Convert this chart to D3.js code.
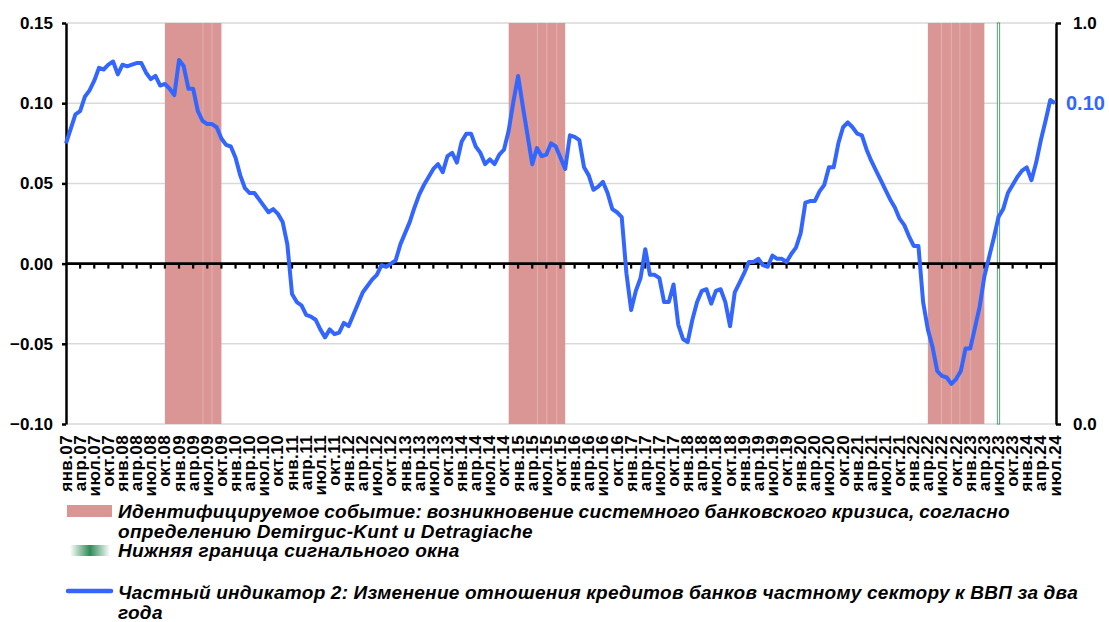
<script src="https://d3js.org/d3.v7.min.js"></script>
<style>
  body { margin: 0; background: #fff; }
  svg text { font-family: Arial, "Liberation Sans", sans-serif; }
</style>
<div id="chart"></div>
<script>
  // Monthly values, Jan 2007 .. Jul 2024
  const firstYear = 2007;
  const quarterNames = ['янв', 'апр', 'июл', 'окт'];
  const indicator = [
    0.075, 0.084, 0.093, 0.095, 0.104, 0.108, 0.114, 0.122, 0.121, 0.124, 0.126, 0.118,
    0.124, 0.123, 0.124, 0.125, 0.125, 0.119, 0.115, 0.117, 0.111, 0.112, 0.109, 0.105,
    0.127, 0.123, 0.109, 0.109, 0.095, 0.089, 0.087, 0.087, 0.085, 0.078, 0.074, 0.073,
    0.066, 0.055, 0.047, 0.044, 0.044, 0.040, 0.036, 0.032, 0.034, 0.031, 0.026, 0.012,
    -0.019, -0.024, -0.026, -0.032, -0.033, -0.035, -0.041, -0.046, -0.041, -0.044, -0.043, -0.037,
    -0.039, -0.032, -0.025, -0.018, -0.014, -0.010, -0.007, -0.001, -0.002, 0.000, 0.002, 0.012,
    0.019, 0.026, 0.035, 0.043, 0.049, 0.054, 0.059, 0.062, 0.057, 0.067, 0.069, 0.063,
    0.076, 0.081, 0.081, 0.073, 0.069, 0.062, 0.065, 0.062, 0.068, 0.071, 0.083, 0.101,
    0.117, 0.098, 0.080, 0.062, 0.072, 0.067, 0.068, 0.075, 0.073, 0.066, 0.059, 0.080,
    0.079, 0.077, 0.060, 0.055, 0.046, 0.048, 0.051, 0.044, 0.034, 0.032, 0.029, -0.006,
    -0.029, -0.017, -0.009, 0.009, -0.007, -0.007, -0.009, -0.024, -0.024, -0.013, -0.038, -0.047,
    -0.049, -0.035, -0.024, -0.017, -0.016, -0.025, -0.017, -0.016, -0.024, -0.039, -0.018, -0.012,
    -0.006, 0.001, 0.001, 0.003, -0.001, -0.002, 0.005, 0.003, 0.003, 0.001, 0.006, 0.010,
    0.019, 0.038, 0.039, 0.039, 0.045, 0.049, 0.060, 0.060, 0.075, 0.085, 0.088, 0.085,
    0.081, 0.080, 0.071, 0.064, 0.058, 0.052, 0.046, 0.040, 0.035, 0.028, 0.024, 0.017,
    0.011, 0.011, -0.024, -0.041, -0.052, -0.067, -0.070, -0.071, -0.075, -0.072, -0.067, -0.053,
    -0.053, -0.040, -0.027, -0.008, 0.004, 0.016, 0.029, 0.034, 0.044, 0.049, 0.054, 0.058,
    0.060, 0.052, 0.063, 0.077, 0.089, 0.102, 0.100
  ];
  // crisis periods (month index from Jan 2007), with the seams seen inside them
  const crises = [[21, 33], [94, 106], [183, 195]];
  const crisisSeams = [29.1, 31, 100.1, 102.1, 104.2, 185.9, 188, 189.8, 192.1];
  const windowStart = 198; // jul.23
  const leftTicks = [-0.10, -0.05, 0.00, 0.05, 0.10, 0.15];
  const rightTicks = [0, 1];

  const legendItems = [
    {kind: 'band', lines: ['Идентифицируемое событие: возникновение системного банковского кризиса, согласно', 'определению Demirguc-Kunt и Detragiache'], widths: [892, null]},
    {kind: 'window', lines: ['Нижняя граница сигнального окна'], widths: [null]},
    {kind: 'line', lines: ['Частный индикатор 2: Изменение отношения кредитов банков частному сектору к ВВП за два', 'года'], widths: [960, null]}
  ];

  const W = 1109, H = 622;
  const blue = '#3366ff', pink = '#d99694', green = '#2e8b57';

  const svg = d3.select('#chart').append('svg')
    .attr('width', W).attr('height', H);

  const x = d3.scaleLinear().domain([0, indicator.length - 1]).range([66, 1055]);
  const y = d3.scaleLinear().domain([-0.10, 0.15]).range([424, 23]);
  const y2 = d3.scaleLinear().domain([0, 1]).range([424, 23]);
  const xRight = 1056;

  // gridlines
  svg.append('g').selectAll('line')
    .data(leftTicks.filter(d => d !== 0))
    .enter().append('line')
    .attr('x1', 66).attr('x2', xRight)
    .attr('y1', d => y(d)).attr('y2', d => y(d))
    .style('stroke', '#d9d9d9').style('stroke-width', 1.5);

  // crisis bands
  svg.append('g').selectAll('rect')
    .data(crises)
    .enter().append('rect')
    .attr('x', d => x(d[0]))
    .attr('width', d => x(d[1]) - x(d[0]))
    .attr('y', y2(1))
    .attr('height', y2(0) - y2(1))
    .style('fill', pink);

  svg.append('g').selectAll('line')
    .data(crisisSeams)
    .enter().append('line')
    .attr('x1', d => x(d)).attr('x2', d => x(d))
    .attr('y1', y2(1)).attr('y2', y2(0))
    .style('stroke', '#e8bcba').style('stroke-width', 0.7);

  // signal window lower bound
  svg.append('rect')
    .attr('x', x(windowStart) - 1.2).attr('width', 2.4)
    .attr('y', y2(1)).attr('height', y2(0) - y2(1))
    .style('fill', '#fff').style('stroke', green).style('stroke-width', 0.8);

  // left axis
  const gLeft = svg.append('g')
    .attr('transform', 'translate(66,0)')
    .call(d3.axisLeft(y).tickValues(leftTicks).tickFormat(d3.format('.2f')).tickSize(4).tickSizeOuter(0));
  gLeft.select('.domain').style('stroke', '#000').style('stroke-width', 2.5);
  gLeft.selectAll('.tick line').style('stroke', '#000').style('stroke-width', 2.5);
  gLeft.selectAll('.tick text')
    .attr('x', -13)
    .style('font-size', '17px').style('font-weight', 'bold').style('fill', '#000');

  // right axis
  const gRight = svg.append('g')
    .attr('transform', `translate(${xRight},0)`)
    .call(d3.axisRight(y2).tickValues(rightTicks).tickFormat(d3.format('.1f')).tickSize(5).tickSizeOuter(0));
  gRight.select('.domain').style('stroke', '#000').style('stroke-width', 2.5);
  gRight.selectAll('.tick line').style('stroke', '#000').style('stroke-width', 2.5);
  gRight.selectAll('.tick text')
    .attr('x', 17)
    .style('font-size', '17px').style('font-weight', 'bold').style('fill', '#000');

  // zero line with quarter ticks
  svg.append('line')
    .attr('x1', 66).attr('x2', xRight)
    .attr('y1', y(0)).attr('y2', y(0))
    .style('stroke', '#000').style('stroke-width', 2.7);

  const quarterIdx = d3.range(0, indicator.length, 3);
  svg.append('g').selectAll('line')
    .data(quarterIdx.filter(i => i > 0 && i < indicator.length - 1))
    .enter().append('line')
    .attr('x1', d => x(d)).attr('x2', d => x(d))
    .attr('y1', y(0)).attr('y2', y(0) + 5)
    .style('stroke', '#000').style('stroke-width', 2.2);

  // x labels
  svg.append('g').selectAll('text')
    .data(quarterIdx)
    .enter().append('text')
    .attr('transform', d => `translate(${x(d) + 5.5},435) rotate(-90)`)
    .attr('text-anchor', 'end')
    .style('font-size', '17px').style('font-weight', 'bold').style('letter-spacing', '0.4px')
    .text(d => quarterNames[(d % 12) / 3] + '.' + String((firstYear + Math.floor(d / 12)) % 100).padStart(2, '0'));

  // indicator line
  const line = d3.line().x((d, i) => x(i)).y(d => y(d));
  svg.append('path')
    .datum(indicator)
    .attr('d', line)
    .style('fill', 'none').style('stroke', blue)
    .style('stroke-width', 4).style('stroke-linejoin', 'round');

  const last = indicator[indicator.length - 1];
  svg.append('text')
    .attr('x', 1066).attr('y', y(last) + 7)
    .style('font-size', '20px').style('font-weight', 'bold').style('fill', blue)
    .text(d3.format('.2f')(last));

  // legend
  const defs = svg.append('defs');
  const grad = defs.append('linearGradient').attr('id', 'gwin');
  [[0, '#fff'], [0.5, green], [1, '#fff']].forEach(s =>
    grad.append('stop').attr('offset', s[0]).attr('stop-color', s[1]));

  const legendRows = [518, 557, 599];
  const lg = svg.append('g');
  legendItems.forEach((item, k) => {
    const by = legendRows[k];
    if (item.kind === 'band') {
      lg.append('rect').attr('x', 67).attr('y', by - 13).attr('width', 45).attr('height', 12)
        .style('fill', pink);
    } else if (item.kind === 'window') {
      lg.append('rect').attr('x', 70).attr('y', by - 12).attr('width', 40).attr('height', 11)
        .style('fill', 'url(#gwin)');
    } else {
      lg.append('line').attr('x1', 68).attr('x2', 111).attr('y1', by - 8).attr('y2', by - 8)
        .style('stroke', blue).style('stroke-width', 4.5).style('stroke-linecap', 'round');
    }
    item.lines.forEach((t, j) => {
      const tx = lg.append('text')
        .attr('x', 118).attr('y', by + j * 20)
        .style('font-size', '19px').style('font-weight', 'bold').style('font-style', 'italic')
        .style('letter-spacing', '0.3px')
        .text(t);
      const target = item.widths[j];
      if (target) {
        const spaces = t.split(' ').length - 1;
        const w = tx.node().getComputedTextLength();
        tx.style('word-spacing', ((target - w) / spaces) + 'px');
      }
    });
  });
</script>
